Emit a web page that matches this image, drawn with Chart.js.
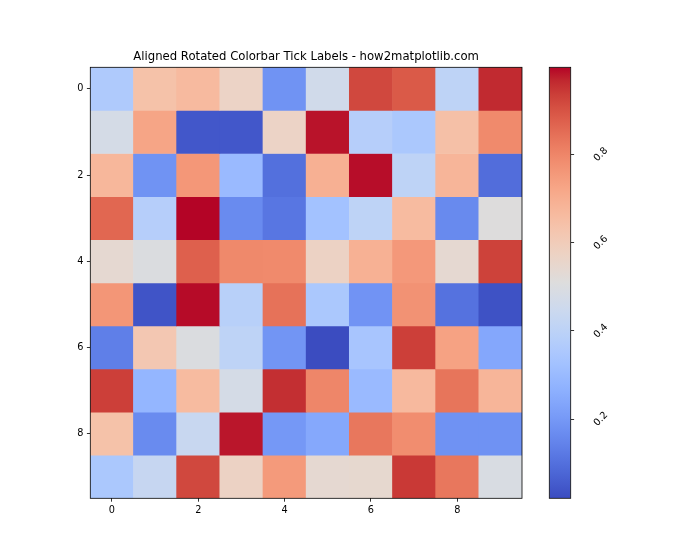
<!DOCTYPE html>
<html><head><meta charset="utf-8">
<script src="https://cdn.jsdelivr.net/npm/chart.js@4"></script>
<style>
html,body{margin:0;padding:0;background:#fff}
#wrap{position:relative;width:700px;height:560px}
canvas{position:absolute;left:0;top:0}
</style>
</head><body>
<div id="wrap"><canvas id="main" width="700" height="560"></canvas><canvas id="cbar" width="700" height="560"></canvas></div>
<script>
const chartTitle = "Aligned Rotated Colorbar Tick Labels - how2matplotlib.com";
const columns = [0,1,2,3,4,5,6,7,8,9];
const rows = [0,1,2,3,4,5,6,7,8,9];
const axisTicks = [0,2,4,6,8];
const colorbarTicks = [0.2,0.4,0.6,0.8];

const row0 = [0.36, 0.64, 0.665, 0.57, 0.185, 0.463, 0.92, 0.888, 0.405, 0.965];
const row1 = [0.478, 0.725, 0.045, 0.044, 0.57, 0.985, 0.38, 0.35, 0.645, 0.79];
const row2 = [0.676, 0.185, 0.76, 0.30, 0.10, 0.695, 0.99, 0.405, 0.68, 0.094];
const row3 = [0.864, 0.38, 0.998, 0.165, 0.115, 0.326, 0.405, 0.662, 0.162, 0.512];
const row4 = [0.54, 0.50, 0.876, 0.793, 0.79, 0.575, 0.692, 0.757, 0.54, 0.93];
const row5 = [0.763, 0.038, 0.992, 0.387, 0.842, 0.35, 0.186, 0.772, 0.105, 0.033];
const row6 = [0.135, 0.62, 0.50, 0.405, 0.19, 0.0205, 0.34, 0.934, 0.733, 0.24];
const row7 = [0.934, 0.284, 0.662, 0.478, 0.958, 0.80, 0.30, 0.668, 0.836, 0.68];
const row8 = [0.64, 0.164, 0.436, 0.983, 0.197, 0.243, 0.83, 0.784, 0.182, 0.182];
const row9 = [0.35, 0.43, 0.92, 0.575, 0.754, 0.54, 0.545, 0.943, 0.83, 0.49];
const values = [row0,row1,row2,row3,row4,row5,row6,row7,row8,row9];

// matplotlib coolwarm (33 samples)
const CW = [
[0.2298057,0.298717966,0.753683153],[0.26623388,0.353094838,0.801466763],[0.30386891,0.406535296,0.84495867],
[0.342804478,0.458757618,0.883725899],[0.38301334,0.50941904,0.917387822],[0.424369608,0.558148092,0.945619588],
[0.46666708,0.604562568,0.968154911],[0.509635204,0.648280772,0.98478814],[0.552953156,0.688929332,0.995375608],
[0.596262162,0.726149107,0.999836203],[0.639176211,0.759599947,0.998151185],[0.681291281,0.788964712,0.990363227],
[0.722193294,0.813952739,0.976574709],[0.761464949,0.834302879,0.956945269],[0.798691636,0.849786142,0.931688648],
[0.833466556,0.860207984,0.901068838],[0.865395197,0.86541021,0.865395561],[0.897787179,0.848937047,0.820880546],
[0.924127593,0.827384882,0.774508472],[0.944468518,0.800927443,0.726736146],[0.958852946,0.769767752,0.678007945],
[0.96732803,0.734132809,0.628751763],[0.969954137,0.694266682,0.579375448],[0.966811177,0.650421156,0.530263762],
[0.958003065,0.602842431,0.481775914],[0.943660866,0.551750968,0.434243684],[0.923944917,0.49730856,0.387970225],
[0.89904617,0.439559467,0.343229596],[0.869186849,0.378313092,0.300267182],[0.834620542,0.312874446,0.259301199],
[0.795631745,0.24128379,0.220525627],[0.752534934,0.157246067,0.184115123],[0.705673158,0.01555616,0.150232812]];
function coolwarm(t){
  t = Math.max(0, Math.min(1, t));
  const f = t * (CW.length - 1), i = Math.min(CW.length - 2, Math.floor(f)), u = f - i;
  const c = CW[i].map((a, k) => Math.round(255 * (a + (CW[i+1][k] - a) * u)));
  return `rgb(${c[0]},${c[1]},${c[2]})`;
}
const flat = values.flat();
const vmin = Math.min(...flat), vmax = Math.max(...flat);

const FONT = 'DejaVu Sans';
const frame = {
  id: 'frame',
  afterDatasetsDraw(chart) {
    const {ctx, chartArea: a} = chart;
    ctx.save(); ctx.strokeStyle = '#000'; ctx.lineWidth = 0.8;
    ctx.strokeRect(a.left, a.top, a.right - a.left, a.bottom - a.top);
    ctx.restore();
  }
};
const titlePlugin = {
  id: 'titleText',
  afterDraw(chart) {
    const {ctx, chartArea: a} = chart;
    ctx.save(); ctx.fillStyle = '#000'; ctx.font = `11.67px "${FONT}"`;
    ctx.textAlign = 'center'; ctx.textBaseline = 'alphabetic';
    ctx.fillText(chartTitle, (a.left + a.right) / 2, a.top - 7);
    ctx.restore();
  }
};

const tickFont = {family: FONT, size: 9.72};
const gridOpts = {drawOnChartArea: false, drawTicks: true, tickLength: 3.4, tickColor: '#000', tickWidth: 0.8, color: '#000'};

new Chart(document.getElementById('main'), {
  type: 'bar',
  data: {
    datasets: values.map((row, r) => ({
      label: 'row ' + rows[r],
      data: row.map((v, c) => ({x: columns[c], y: [rows[r] - 0.5, rows[r] + 0.5]})),
      backgroundColor: row.map(v => coolwarm((v - vmin) / (vmax - vmin))),
      borderWidth: 0,
      grouped: false,
      categoryPercentage: 1,
      barPercentage: 1
    }))
  },
  options: {
    responsive: false, animation: false, devicePixelRatio: 1,
    layout: {padding: {top: 67.3, right: 178, bottom: 0, left: 0}},
    plugins: {legend: {display: false}, tooltip: {enabled: false}, title: {display: false}},
    scales: {
      x: {
        type: 'linear', min: -0.5, max: 9.5, offset: false,
        afterBuildTicks: s => { s.ticks = axisTicks.map(v => ({value: v})); },
        afterFit: s => { s.height = 61.7; },
        ticks: {font: tickFont, color: '#000', padding: 3.4, maxRotation: 0, autoSkip: false},
        grid: Object.assign({offset: false}, gridOpts),
        border: {display: false}
      },
      y: {
        type: 'linear', reverse: true, min: -0.5, max: 9.5, beginAtZero: false,
        afterBuildTicks: s => { s.ticks = axisTicks.map(v => ({value: v})); },
        afterFit: s => { s.width = 90.3; },
        ticks: {font: tickFont, color: '#000', padding: 3.4, autoSkip: false},
        grid: gridOpts,
        border: {display: false}
      }
    }
  },
  plugins: [frame, titlePlugin]
});

new Chart(document.getElementById('cbar'), {
  type: 'bar',
  data: {
    labels: ['colorbar'],
    datasets: [{
      data: [[vmin, vmax]],
      backgroundColor: (ctx) => {
        const chart = ctx.chart;
        if (!chart.chartArea) return 'rgba(0,0,0,0)';
        const y = chart.scales.y;
        const g = chart.ctx.createLinearGradient(0, y.getPixelForValue(vmin), 0, y.getPixelForValue(vmax));
        CW.forEach((c, i) => g.addColorStop(i / (CW.length - 1), `rgb(${Math.round(c[0]*255)},${Math.round(c[1]*255)},${Math.round(c[2]*255)})`));
        return g;
      },
      borderWidth: 0, categoryPercentage: 1, barPercentage: 1, inflateAmount: 0
    }]
  },
  options: {
    responsive: false, animation: false, devicePixelRatio: 1,
    layout: {padding: {top: 67.3, right: 0, bottom: 61.7, left: 549.3}},
    plugins: {legend: {display: false}, tooltip: {enabled: false}},
    scales: {
      x: {display: false},
      y: {
        position: 'right', min: vmin, max: vmax, beginAtZero: false,
        afterBuildTicks: s => { s.ticks = colorbarTicks.map(v => ({value: v})); },
        afterFit: s => { s.width = 129.3; },
        ticks: {font: tickFont, color: '#000', padding: 19, minRotation: 45, maxRotation: 45, crossAlign: 'center', autoSkip: false},
        grid: gridOpts,
        border: {display: false}
      }
    }
  },
  plugins: [frame]
});
</script>
</body></html>
